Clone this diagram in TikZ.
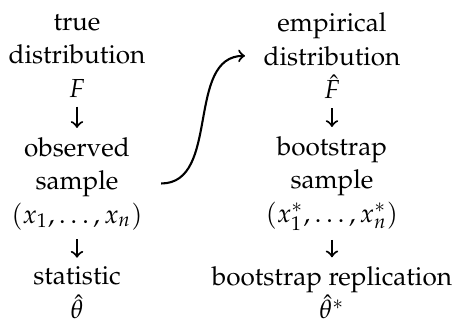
\documentclass[tikz,border=0pt]{standalone}
\usepackage{amsmath}
\usepackage[T1]{fontenc}
\usepackage{mathpazo}
\usepackage{tikz}

\begin{document}
\begin{tikzpicture}[x=1pt,y=1pt,
  every node/.style={align=center,outer xsep=3.8pt,font=\linespread{1.07}\selectfont},
  flow/.style={->,thick}]
  \useasboundingbox (0,0) rectangle (175.1,-123.4);
  \node (truedist) at (29.5,-21.4) {true\\distribution\\$F$};
  \node (obssample) at (29.5,-70.3) {observed\\sample\\$(x_1,\ldots,x_n)$};
  \node (statistic) at (29.5,-112.2) {statistic\\$\hat{\theta}$};
  \node (empdist) at (127.2,-21.4) {empirical\\distribution\\$\hat{F}$};
  \node (bootsample) at (127.2,-70.3) {bootstrap\\sample\\$(x_1^*,\ldots,x_n^*)$};
  \node (bootrep) at (127.2,-112.2) {bootstrap replication\\$\hat{\theta}^*$};
  \draw[flow] (truedist) -- (obssample);
  \draw[flow] (obssample) -- (statistic);
  \draw[flow] (empdist) -- (bootsample);
  \draw[flow] (bootsample) -- (bootrep);
  \draw[flow] (obssample.east) to[out=0,in=180] (empdist.west);
\end{tikzpicture}
\end{document}
